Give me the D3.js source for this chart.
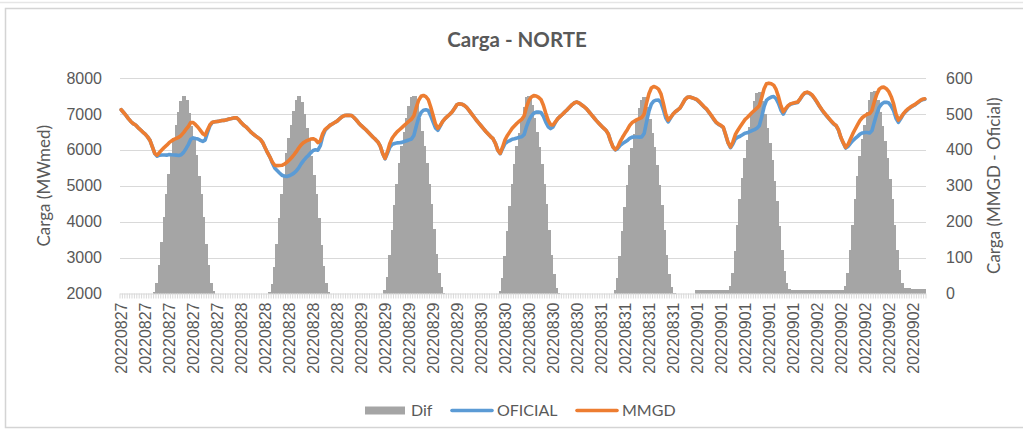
<!DOCTYPE html>
<html>
<head>
<meta charset="utf-8">
<script src="https://cdn.jsdelivr.net/npm/d3@7"></script>
<style>
  html, body { margin: 0; padding: 0; background: #ffffff; }
  svg { display: block; font-family: Lato, "Open Sans", "DejaVu Sans", sans-serif; }
</style>
</head>
<body>
<svg id="chart" width="1023" height="436"></svg>
<script>
// Dias do período (48 registros de meia hora por dia)
const dias = ["20220827", "20220828", "20220829", "20220830", "20220831", "20220901", "20220902"];

// Carga MMGD (MWmed), meia-hora a meia-hora
const mmgd = [
  7117,7040,6960,6870,6790,6728,6690,6620,6560,6494,6440,6360,6264,6080,5900,5850,5930,6000,6070,6130,6200,6250,6290,6320,6350,6400,6480,6570,6650,6760,6760,6700,6630,6540,6450,6410,6560,6700,6770,6780,6790,6800,6815,6820,6840,6860,6870,6890,
  6894,6840,6760,6690,6640,6570,6500,6440,6390,6340,6290,6200,6060,5920,5800,5660,5570,5560,5565,5570,5600,5650,5710,5780,5860,5950,6050,6140,6200,6240,6270,6300,6310,6280,6200,6250,6450,6570,6620,6680,6720,6760,6800,6860,6920,6955,6960,6960,
  6958,6900,6830,6750,6680,6620,6560,6490,6420,6350,6290,6220,6100,5900,5760,5950,6180,6330,6420,6500,6560,6620,6680,6740,6800,6850,6950,7180,7380,7490,7514,7480,7400,7200,6960,6720,6600,6680,6790,6870,6930,6990,7060,7160,7260,7283,7270,7236,
  7180,7100,7010,6920,6830,6750,6670,6590,6510,6440,6370,6310,6180,5990,5900,6080,6280,6400,6500,6600,6670,6740,6800,6850,6950,7200,7380,7470,7510,7500,7460,7400,7240,7020,6820,6700,6690,6780,6870,6930,6990,7060,7120,7190,7260,7310,7330,7300,
  7250,7200,7140,7060,6980,6900,6820,6750,6680,6610,6550,6450,6250,6080,6010,6080,6230,6350,6460,6560,6680,6760,6800,6840,6870,6900,7000,7300,7560,7720,7764,7740,7690,7560,7300,7000,6830,6900,6990,7060,7110,7170,7280,7400,7460,7470,7450,7425,
  7400,7340,7270,7200,7140,7050,6960,6860,6770,6720,6680,6630,6420,6200,6080,6220,6420,6540,6640,6740,6840,6900,6970,7040,7100,7160,7230,7450,7700,7840,7856,7840,7800,7680,7480,7230,7060,7150,7230,7280,7300,7315,7330,7420,7520,7590,7606,7580,
  7530,7440,7340,7230,7130,7040,6960,6880,6800,6730,6680,6560,6350,6200,6070,6150,6300,6450,6580,6700,6820,6900,6950,6990,7010,7100,7350,7550,7690,7740,7745,7700,7620,7480,7280,7000,6830,6900,7000,7080,7140,7190,7230,7270,7320,7370,7410,7422
];

// Carga oficial (MWmed)
const oficial = [
  7117,7040,6960,6870,6790,6728,6690,6620,6560,6494,6440,6360,6264,6080,5895,5822,5852,5858,5858,5852,5868,5862,5858,5852,5844,5864,5929,6032,6147,6294,6332,6314,6302,6264,6236,6272,6482,6670,6764,6780,6790,6800,6815,6820,6840,6860,6870,6890,
  6894,6840,6760,6690,6640,6570,6500,6440,6390,6340,6290,6200,6060,5920,5796,5634,5496,5422,5355,5294,5270,5258,5276,5310,5352,5412,5499,5608,5700,5778,5845,5916,5980,6002,5990,6114,6374,6542,6616,6680,6720,6760,6800,6860,6920,6955,6960,6960,
  6958,6900,6830,6750,6680,6620,6560,6490,6420,6350,6290,6220,6100,5900,5750,5904,6074,6154,6174,6194,6198,6208,6230,6252,6278,6302,6399,6656,6890,7038,7102,7116,7094,6950,6780,6610,6544,6662,6788,6870,6930,6990,7060,7160,7260,7283,7270,7236,
  7180,7100,7010,6920,6830,6750,6670,6590,6510,6440,6370,6310,6180,5990,5892,6036,6176,6226,6256,6296,6310,6330,6352,6364,6430,6654,6829,6944,7020,7050,7052,7040,6936,6772,6642,6592,6636,6764,6868,6930,6990,7060,7120,7190,7260,7310,7330,7300,
  7250,7200,7140,7060,6980,6900,6820,6750,6680,6610,6550,6450,6250,6080,6001,6036,6126,6176,6218,6258,6322,6354,6356,6358,6354,6360,6453,6780,7074,7272,7356,7382,7388,7314,7122,6892,6776,6882,6988,7060,7110,7170,7280,7400,7460,7470,7450,7425,
  7390,7330,7261,7190,7130,7039,6950,6850,6761,6710,6670,6620,6409,6190,6060,6164,6302,6350,6378,6418,6462,6474,6506,6538,6564,6602,6669,6914,7200,7378,7436,7468,7486,7422,7292,7110,6996,7122,7218,7269,7290,7305,7320,7411,7510,7580,7596,7570,
  7520,7430,7330,7221,7120,7030,6949,6870,6790,6720,6671,6550,6340,6190,6050,6092,6180,6258,6316,6374,6438,6470,6482,6484,6470,6538,6785,7010,7186,7274,7321,7324,7302,7218,7088,6878,6764,6870,6986,7066,7126,7177,7218,7258,7307,7358,7398,7410
];

// Diferença MMGD - Oficial (MW), eixo secundário
const dif = [
  0,0,0,0,0,0,0,0,0,0,0,0,0,0,5,28,78,142,212,278,332,388,432,468,506,536,551,538,503,466,428,386,328,276,214,138,78,30,6,0,0,0,0,0,0,0,0,0,
  0,0,0,0,0,0,0,0,0,0,0,0,0,0,4,26,74,138,210,276,330,392,434,470,508,538,551,532,500,462,425,384,330,278,210,136,76,28,4,0,0,0,0,0,0,0,0,0,
  0,0,0,0,0,0,0,0,0,0,0,0,0,0,10,46,106,176,246,306,362,412,450,488,522,548,551,524,490,452,412,364,306,250,180,110,56,18,2,0,0,0,0,0,0,0,0,0,
  0,0,0,0,0,0,0,0,0,0,0,0,0,0,8,44,104,174,244,304,360,410,448,486,520,546,551,526,490,450,408,360,304,248,178,108,54,16,2,0,0,0,0,0,0,0,0,0,
  0,0,0,0,0,0,0,0,0,0,0,0,0,0,9,44,104,174,242,302,358,406,444,482,516,540,547,520,486,448,408,358,302,246,178,108,54,18,2,0,0,0,0,0,0,0,0,0,
  10,10,9,10,10,11,10,10,9,10,10,10,11,10,20,56,118,190,262,322,378,426,464,502,536,558,561,536,500,462,420,372,314,258,188,120,64,28,12,11,10,10,10,9,10,10,10,10,
  10,10,10,9,10,10,11,10,10,10,9,10,10,10,20,58,120,192,264,326,382,430,468,506,540,562,565,540,504,466,424,376,318,262,192,122,66,30,14,14,14,13,12,12,13,12,12,12
];

// Marcas dos eixos
const ticksCarga = [2000, 3000, 4000, 5000, 6000, 7000, 8000];
const ticksDif = [0, 100, 200, 300, 400, 500, 600];
const legenda = ["Dif", "OFICIAL", "MMGD"];
const passoRotulo = 10;

const cores = { Dif: "#a5a5a5", OFICIAL: "#5b9bd5", MMGD: "#ed7d31" };
const corTexto = "#595959";
const corGrade = "#d9d9d9";

const svg = d3.select("#chart");
const W = 1023, H = 436;
const area = { left: 120, right: 926, top: 78, bottom: 293.5 };

// Categoria (data) de cada registro
const categorias = dias.flatMap(d => d3.range(48).map(() => d));
const n = categorias.length;

// Moldura da área do gráfico
svg.append("rect").attr("x", 0).attr("y", 0).attr("width", W).attr("height", H).attr("fill", "#ffffff");
svg.append("line").attr("x1", 0).attr("x2", W).attr("y1", 2.5).attr("y2", 2.5)
  .attr("stroke", "#e6e6e6").attr("stroke-width", 1.5);
svg.append("rect").attr("x", 5.5).attr("y", 8.5).attr("width", W + 20).attr("height", 419)
  .attr("fill", "none").attr("stroke", "#d4d4d4").attr("stroke-width", 1.5);

const x = d3.scaleBand().domain(d3.range(n)).range([area.left, area.right]).padding(0);
const yCarga = d3.scaleLinear().domain([2000, 8000]).range([area.bottom, area.top]);
const yDif = d3.scaleLinear().domain([0, 600]).range([area.bottom, area.top]);
const bw = x.bandwidth();

// Linhas de grade horizontais
svg.append("g").selectAll("line")
  .data(ticksCarga.filter(t => t > 2000))
  .join("line")
  .attr("x1", area.left).attr("x2", area.right)
  .attr("y1", d => Math.round(yCarga(d)) + 0.5).attr("y2", d => Math.round(yCarga(d)) + 0.5)
  .attr("stroke", corGrade).attr("stroke-width", 1.2);

// Barras da diferença (eixo secundário), contíguas, sem espaçamento
svg.append("g")
  .attr("shape-rendering", "crispEdges")
  .selectAll("rect")
  .data(dif)
  .join("rect")
  .attr("x", (d, i) => Math.floor(x(i)))
  .attr("width", (d, i) => Math.ceil(x(i) + bw) - Math.floor(x(i)) + (i < n - 1 ? 1 : 0))
  .attr("y", d => yDif(d))
  .attr("height", d => yDif(0) - yDif(d))
  .attr("fill", cores.Dif);

// Eixo de categorias: linha base e marcas entre categorias
svg.append("line").attr("x1", area.left).attr("x2", area.right)
  .attr("y1", area.bottom + 0.5).attr("y2", area.bottom + 0.5)
  .attr("stroke", corGrade).attr("stroke-width", 1.2);
svg.append("g").selectAll("line")
  .data(d3.range(n + 1))
  .join("line")
  .attr("x1", i => area.left + i * x.step()).attr("x2", i => area.left + i * x.step())
  .attr("y1", area.bottom).attr("y2", area.bottom + 5)
  .attr("stroke", corGrade).attr("stroke-width", 1);

// Séries de carga
const linha = d3.line()
  .x((d, i) => x(i) + bw / 2)
  .y(d => yCarga(d))
  .curve(d3.curveLinear);

svg.append("path").datum(oficial)
  .attr("d", linha).attr("fill", "none")
  .attr("stroke", cores.OFICIAL).attr("stroke-width", 3.6)
  .attr("stroke-linejoin", "round").attr("stroke-linecap", "round");

svg.append("path").datum(mmgd)
  .attr("d", linha).attr("fill", "none")
  .attr("stroke", cores.MMGD).attr("stroke-width", 3.6)
  .attr("stroke-linejoin", "round").attr("stroke-linecap", "round");

// Eixo esquerdo
const eixoEsq = svg.append("g")
  .attr("transform", `translate(${area.left},0)`)
  .call(d3.axisLeft(yCarga).tickValues(ticksCarga).tickSize(0).tickPadding(18).tickFormat(d3.format("d")));
eixoEsq.select(".domain").remove();
eixoEsq.selectAll("text").attr("fill", corTexto).style("font-size", "16px").style("font-family", null);

// Eixo direito
const eixoDir = svg.append("g")
  .attr("transform", `translate(${area.right},0)`)
  .call(d3.axisRight(yDif).tickValues(ticksDif).tickSize(0).tickPadding(20).tickFormat(d3.format("d")));
eixoDir.select(".domain").remove();
eixoDir.selectAll("text").attr("fill", corTexto).style("font-size", "16px").style("font-family", null);

// Rótulos das categorias (a cada 10 registros), na vertical
const eixoX = svg.append("g")
  .attr("transform", `translate(0,${area.bottom})`)
  .call(d3.axisBottom(x)
    .tickValues(d3.range(0, n, passoRotulo))
    .tickSize(0)
    .tickFormat(i => categorias[i]));
eixoX.select(".domain").remove();
eixoX.selectAll("text")
  .attr("transform", "rotate(-90)")
  .attr("x", -9).attr("y", 0).attr("dy", "0.36em")
  .style("text-anchor", "end")
  .attr("fill", corTexto).style("font-size", "16px").style("font-family", null);

// Título
svg.append("text")
  .attr("x", 517).attr("y", 47)
  .attr("text-anchor", "middle")
  .attr("fill", corTexto)
  .style("font-size", "20.5px").style("font-weight", "bold")
  .text("Carga - NORTE");

// Títulos dos eixos
const cy = (area.top + area.bottom) / 2;
svg.append("text")
  .attr("transform", `translate(44,${cy}) rotate(-90)`)
  .attr("text-anchor", "middle").attr("dy", "0.35em")
  .attr("fill", corTexto).style("font-size", "17px")
  .text("Carga (MWmed)");
svg.append("text")
  .attr("transform", `translate(994,${cy}) rotate(-90)`)
  .attr("text-anchor", "middle").attr("dy", "0.35em")
  .attr("fill", corTexto).style("font-size", "17px")
  .text("Carga (MMGD - Oficial)");

// Legenda
const legY = 410.5;
const leg = svg.append("g");
const itensX = { Dif: 365, OFICIAL: 451, MMGD: 576 };
legenda.forEach(nome => {
  const x0 = itensX[nome];
  if (nome === "Dif") {
    leg.append("rect").attr("x", x0).attr("y", legY - 4).attr("width", 40).attr("height", 8)
      .attr("fill", cores.Dif);
  } else {
    leg.append("line").attr("x1", x0 + 1).attr("x2", x0 + 41).attr("y1", legY).attr("y2", legY)
      .attr("stroke", cores[nome]).attr("stroke-width", 3.6).attr("stroke-linecap", "round");
  }
  leg.append("text").attr("x", x0 + 46).attr("y", legY).attr("dy", "0.36em")
    .attr("fill", corTexto).style("font-size", "16px")
    .text(nome);
});
</script>
</body>
</html>
